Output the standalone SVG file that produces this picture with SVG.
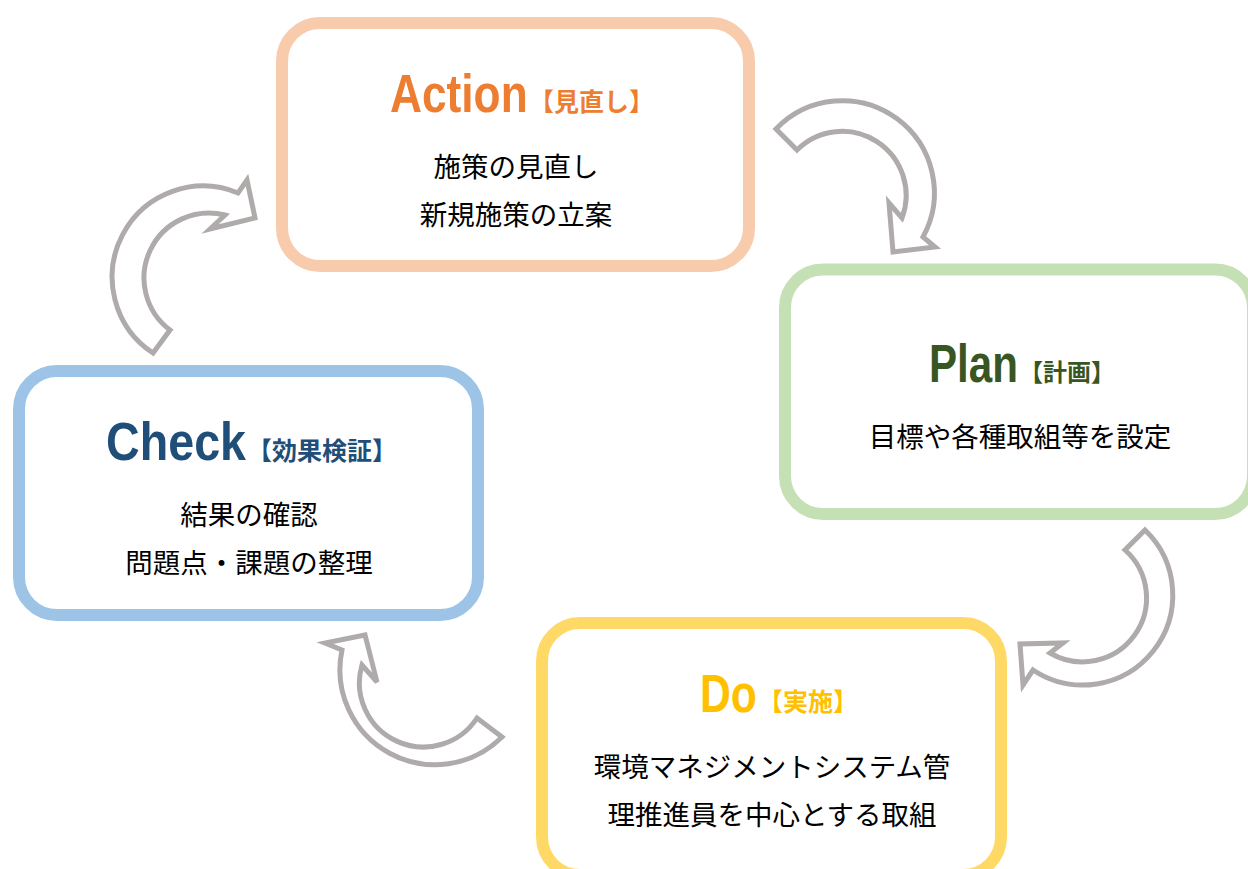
<svg xmlns="http://www.w3.org/2000/svg" width="1248" height="869" viewBox="0 0 1248 869">
<style>
.box{fill:#fff;stroke-width:12}
.arrow{fill:#fff;stroke:#AFABAB;stroke-width:5;stroke-linejoin:miter}
.ttl{font-family:"Liberation Sans",Arial,sans-serif;font-weight:bold;font-size:54px}
.sub{font-family:"Noto Sans CJK JP",sans-serif;font-weight:bold;font-size:25px}
.body{font-family:"Noto Sans CJK JP",sans-serif;font-size:27.5px;fill:#000;text-anchor:middle}
</style>
<rect width="1248" height="869" fill="#fff"/>
<g id="action">
<rect class="box" x="282" y="23" width="467" height="243" rx="38" stroke="#F8CBAD"/>
<text class="ttl" transform="translate(390,112) scale(0.82,1)" fill="#ED7D31">Action</text>
<text class="sub" x="529" y="111" fill="#ED7D31">【見直し】</text>
<text class="body" x="516" y="177">施策の見直し</text>
<text class="body" x="516" y="225">新規施策の立案</text>
</g>
<g id="plan">
<rect class="box" x="785" y="269.5" width="468" height="244.5" rx="38" stroke="#C5E0B4"/>
<text class="ttl" transform="translate(929,382) scale(0.78,1)" fill="#375623">Plan</text>
<text class="sub" x="1019" y="381" fill="#375623" style="font-size:24px">【計画】</text>
<text class="body" x="1020" y="447">目標や各種取組等を設定</text>
</g>
<g id="check">
<rect class="box" x="19" y="371" width="459" height="244" rx="38" stroke="#9DC3E6"/>
<text class="ttl" transform="translate(106,460) scale(0.864,1)" fill="#1F4E79">Check</text>
<text class="sub" x="247" y="460" fill="#1F4E79">【効果検証】</text>
<text class="body" x="249" y="525">結果の確認</text>
<text class="body" x="249" y="573">問題点・課題の整理</text>
</g>
<g id="do">
<rect class="box" x="542" y="623" width="459" height="252" rx="38" stroke="#FFD966"/>
<text class="ttl" transform="translate(700,712) scale(0.79,1)" fill="#FFC000">Do</text>
<text class="sub" x="758" y="711" fill="#FFC000">【実施】</text>
<text class="body" x="772" y="777">環境マネジメントシステム管</text>
<text class="body" x="772" y="825">理推進員を中心とする取組</text>
</g>
<g id="connectors">
<path class="arrow" d="M776,129 A92,92 0 0 1 923,237 L935,247 L893,252 L889,203 L902,218 A64,64 0 0 0 797,150 Z"/>
<path class="arrow" d="M1145,530 A90,90 0 0 1 1033,670 L1023,685 L1020,644 L1063,643 L1050,653 A64,64 0 0 0 1125,550 Z"/>
<path class="arrow" d="M502,737 A95,95 0 0 1 342,650 L325,643 L365,635 L377,682 L362,665 A64,64 0 0 0 477,718 Z"/>
<path class="arrow" d="M153,353 A91,91 0 0 1 238,193 L247,180 L255,218 L210,229 L225,215 A65,65 0 0 0 170,330 Z"/>
</g>
</svg>
